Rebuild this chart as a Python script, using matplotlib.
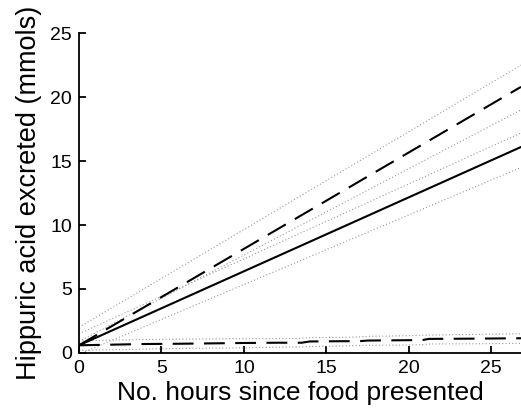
import matplotlib.pyplot as plt
import numpy as np

plt.rcParams['font.family'] = ['Liberation Sans', 'DejaVu Sans']

# fitted lines (start/end at 0 and 26.8 h)
x_end = [0, 26.8]
solid = [0.6, 16.1]
solid_hi = [1.5, 17.2]
solid_lo = [-0.1, 14.5]
dash = [0.6, 20.8]
dash_hi = [2.0, 22.5]
dash_lo = [0.9, 19.0]

# low group (slightly stepped)
low_x = [0, 2, 4, 6, 8, 10, 12, 13.5, 14, 16, 17, 17.5, 20, 20.8, 21.2, 24, 26.8]
low_y = [0.6, 0.65, 0.7, 0.72, 0.75, 0.78, 0.8, 0.8, 0.9, 0.92, 0.92, 0.97, 1.0, 1.0, 1.1, 1.12, 1.15]
low_hi = [0.95, 1.0, 1.05, 1.08, 1.1, 1.12, 1.12, 1.15, 1.2, 1.22, 1.25, 1.3, 1.35, 1.38, 1.4, 1.45, 1.5]
low_lo = [0.2, 0.25, 0.3, 0.35, 0.38, 0.4, 0.45, 0.47, 0.5, 0.55, 0.58, 0.6, 0.62, 0.65, 0.7, 0.72, 0.75]

fig = plt.figure(figsize=(5.21, 4.09), dpi=100)
ax = fig.add_axes([0.1516, 0.137, 0.8484, 0.782])

dot = dict(color='#999999', lw=0.8, ls=(0, (1, 2)))
ax.plot(x_end, dash_hi, **dot)
ax.plot(x_end, dash_lo, **dot)
ax.plot(x_end, solid_hi, **dot)
ax.plot(x_end, solid_lo, **dot)
ax.plot(low_x, low_hi, **dot)
ax.plot(low_x, low_lo, **dot)

ax.plot(x_end, solid, color='black', lw=1.5)
ax.plot(x_end, dash, color='black', lw=1.5, ls=(0, (10, 5)))
ax.plot(low_x, low_y, color='black', lw=1.5, ls=(0, (10, 5)))

ax.set_xlim(0, 26.8)
ax.set_ylim(0, 25)
ax.set_xticks([0, 5, 10, 15, 20, 25])
ax.set_yticks([0, 5, 10, 15, 20, 25])
ax.spines['top'].set_visible(False)
ax.spines['right'].set_visible(False)
ax.spines['left'].set_linewidth(1.3)
ax.spines['bottom'].set_linewidth(1.3)
ax.tick_params(direction='in', length=5, width=1.3, labelsize=14, pad=5)
ax.set_xlabel('No. hours since food presented', fontsize=19, labelpad=3)
ax.set_ylabel('Hippuric acid excreted (mmols)', fontsize=19.5, labelpad=6)

fig.savefig('out.png', dpi=100)
